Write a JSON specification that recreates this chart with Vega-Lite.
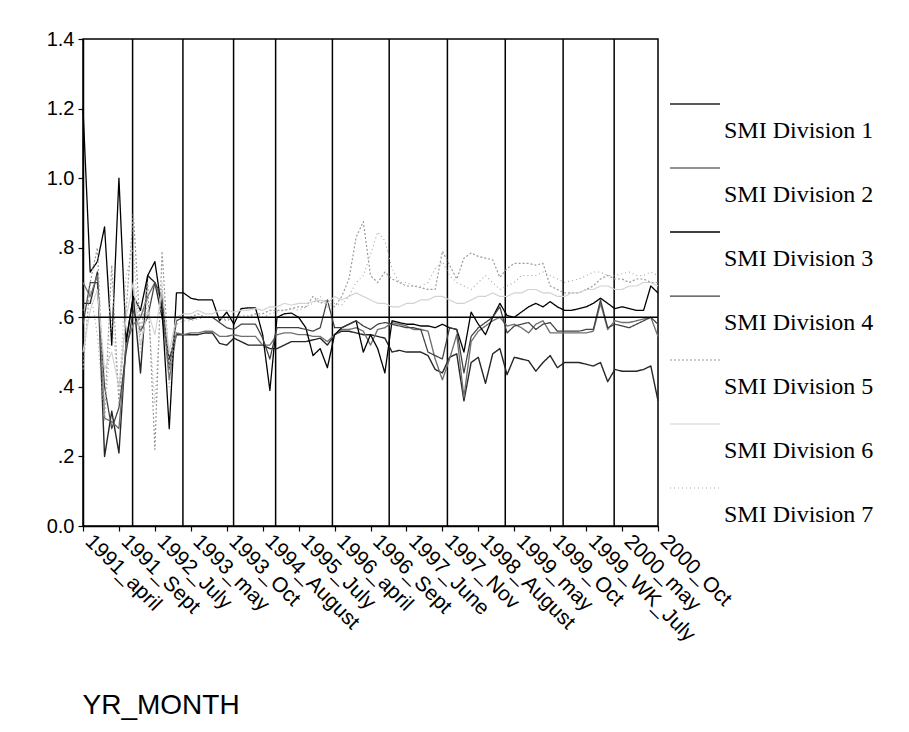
{
  "$schema": "https://vega.github.io/schema/vega-lite/v6.json",
  "width": 575,
  "height": 487,
  "autosize": {"type": "none"},
  "padding": {"left": 83, "top": 39, "right": 251, "bottom": 206},
  "background": "white",
  "config": {
    "view": {"stroke": "black", "strokeWidth": 1.5},
    "font": "Liberation Sans",
    "axis": {"domainColor": "black", "domainWidth": 1.5, "tickColor": "black", "tickWidth": 1.2, "labelColor": "black", "grid": false, "titleColor": "black"},
    "legend": {
      "orient": "none",
      "legendX": 586,
      "legendY": 66,
      "padding": 0,
      "symbolType": "M-1,-1.08L1,-1.08",
      "symbolSize": 2500,
      "labelFont": "Liberation Serif",
      "labelFontSize": 24,
      "labelColor": "black",
      "labelBaseline": "middle",
      "labelOffset": 3,
      "labelLimit": 300,
      "rowPadding": 22
    }
  },
  "datasets": {
    "smi": [
      {"t":0,"SMI Division 1":0.64,"SMI Division 2":0.70,"SMI Division 3":1.20,"SMI Division 4":0.58,"SMI Division 5":0.45,"SMI Division 6":0.50,"SMI Division 7":0.62},
      {"t":1,"SMI Division 1":0.64,"SMI Division 2":0.66,"SMI Division 3":0.73,"SMI Division 4":0.70,"SMI Division 5":0.70,"SMI Division 6":0.62,"SMI Division 7":0.68},
      {"t":2,"SMI Division 1":0.73,"SMI Division 2":0.72,"SMI Division 3":0.76,"SMI Division 4":0.70,"SMI Division 5":0.80,"SMI Division 6":0.68,"SMI Division 7":0.55},
      {"t":3,"SMI Division 1":0.20,"SMI Division 2":0.31,"SMI Division 3":0.86,"SMI Division 4":0.40,"SMI Division 5":0.32,"SMI Division 6":0.45,"SMI Division 7":0.30},
      {"t":4,"SMI Division 1":0.33,"SMI Division 2":0.30,"SMI Division 3":0.52,"SMI Division 4":0.28,"SMI Division 5":0.75,"SMI Division 6":0.50,"SMI Division 7":0.60},
      {"t":5,"SMI Division 1":0.21,"SMI Division 2":0.28,"SMI Division 3":1.00,"SMI Division 4":0.34,"SMI Division 5":0.35,"SMI Division 6":0.40,"SMI Division 7":0.38},
      {"t":6,"SMI Division 1":0.53,"SMI Division 2":0.52,"SMI Division 3":0.53,"SMI Division 4":0.50,"SMI Division 5":0.62,"SMI Division 6":0.60,"SMI Division 7":0.72},
      {"t":7,"SMI Division 1":0.66,"SMI Division 2":0.58,"SMI Division 3":0.66,"SMI Division 4":0.62,"SMI Division 5":0.90,"SMI Division 6":0.70,"SMI Division 7":0.80},
      {"t":8,"SMI Division 1":0.44,"SMI Division 2":0.60,"SMI Division 3":0.62,"SMI Division 4":0.56,"SMI Division 5":0.55,"SMI Division 6":0.52,"SMI Division 7":0.50},
      {"t":9,"SMI Division 1":0.72,"SMI Division 2":0.66,"SMI Division 3":0.72,"SMI Division 4":0.60,"SMI Division 5":0.70,"SMI Division 6":0.62,"SMI Division 7":0.65},
      {"t":10,"SMI Division 1":0.70,"SMI Division 2":0.70,"SMI Division 3":0.76,"SMI Division 4":0.70,"SMI Division 5":0.22,"SMI Division 6":0.55,"SMI Division 7":0.35},
      {"t":11,"SMI Division 1":0.60,"SMI Division 2":0.64,"SMI Division 3":0.62,"SMI Division 4":0.66,"SMI Division 5":0.79,"SMI Division 6":0.68,"SMI Division 7":0.70},
      {"t":12,"SMI Division 1":0.48,"SMI Division 2":0.42,"SMI Division 3":0.28,"SMI Division 4":0.45,"SMI Division 5":0.45,"SMI Division 6":0.50,"SMI Division 7":0.40},
      {"t":13,"SMI Division 1":0.55,"SMI Division 2":0.555,"SMI Division 3":0.67,"SMI Division 4":0.59,"SMI Division 5":0.60,"SMI Division 6":0.60,"SMI Division 7":0.58},
      {"t":14,"SMI Division 1":0.55,"SMI Division 2":0.55,"SMI Division 3":0.67,"SMI Division 4":0.60,"SMI Division 5":0.60,"SMI Division 6":0.61,"SMI Division 7":0.59},
      {"t":15,"SMI Division 1":0.55,"SMI Division 2":0.555,"SMI Division 3":0.655,"SMI Division 4":0.595,"SMI Division 5":0.60,"SMI Division 6":0.61,"SMI Division 7":0.59},
      {"t":16,"SMI Division 1":0.55,"SMI Division 2":0.555,"SMI Division 3":0.65,"SMI Division 4":0.60,"SMI Division 5":0.61,"SMI Division 6":0.62,"SMI Division 7":0.595},
      {"t":17,"SMI Division 1":0.555,"SMI Division 2":0.56,"SMI Division 3":0.65,"SMI Division 4":0.60,"SMI Division 5":0.60,"SMI Division 6":0.61,"SMI Division 7":0.60},
      {"t":18,"SMI Division 1":0.555,"SMI Division 2":0.56,"SMI Division 3":0.65,"SMI Division 4":0.60,"SMI Division 5":0.60,"SMI Division 6":0.61,"SMI Division 7":0.60},
      {"t":19,"SMI Division 1":0.525,"SMI Division 2":0.545,"SMI Division 3":0.59,"SMI Division 4":0.585,"SMI Division 5":0.60,"SMI Division 6":0.62,"SMI Division 7":0.60},
      {"t":20,"SMI Division 1":0.52,"SMI Division 2":0.545,"SMI Division 3":0.615,"SMI Division 4":0.57,"SMI Division 5":0.59,"SMI Division 6":0.62,"SMI Division 7":0.595},
      {"t":21,"SMI Division 1":0.54,"SMI Division 2":0.55,"SMI Division 3":0.58,"SMI Division 4":0.565,"SMI Division 5":0.60,"SMI Division 6":0.615,"SMI Division 7":0.60},
      {"t":22,"SMI Division 1":0.53,"SMI Division 2":0.545,"SMI Division 3":0.625,"SMI Division 4":0.58,"SMI Division 5":0.60,"SMI Division 6":0.62,"SMI Division 7":0.605},
      {"t":23,"SMI Division 1":0.52,"SMI Division 2":0.545,"SMI Division 3":0.627,"SMI Division 4":0.58,"SMI Division 5":0.60,"SMI Division 6":0.62,"SMI Division 7":0.605},
      {"t":24,"SMI Division 1":0.52,"SMI Division 2":0.545,"SMI Division 3":0.627,"SMI Division 4":0.58,"SMI Division 5":0.61,"SMI Division 6":0.625,"SMI Division 7":0.61},
      {"t":25,"SMI Division 1":0.52,"SMI Division 2":0.52,"SMI Division 3":0.55,"SMI Division 4":0.54,"SMI Division 5":0.61,"SMI Division 6":0.62,"SMI Division 7":0.60},
      {"t":26,"SMI Division 1":0.51,"SMI Division 2":0.52,"SMI Division 3":0.39,"SMI Division 4":0.48,"SMI Division 5":0.62,"SMI Division 6":0.63,"SMI Division 7":0.61},
      {"t":27,"SMI Division 1":0.51,"SMI Division 2":0.55,"SMI Division 3":0.60,"SMI Division 4":0.57,"SMI Division 5":0.62,"SMI Division 6":0.63,"SMI Division 7":0.615},
      {"t":28,"SMI Division 1":0.52,"SMI Division 2":0.555,"SMI Division 3":0.61,"SMI Division 4":0.57,"SMI Division 5":0.62,"SMI Division 6":0.64,"SMI Division 7":0.62},
      {"t":29,"SMI Division 1":0.53,"SMI Division 2":0.555,"SMI Division 3":0.612,"SMI Division 4":0.57,"SMI Division 5":0.625,"SMI Division 6":0.635,"SMI Division 7":0.625},
      {"t":30,"SMI Division 1":0.53,"SMI Division 2":0.55,"SMI Division 3":0.60,"SMI Division 4":0.57,"SMI Division 5":0.63,"SMI Division 6":0.64,"SMI Division 7":0.62},
      {"t":31,"SMI Division 1":0.53,"SMI Division 2":0.55,"SMI Division 3":0.57,"SMI Division 4":0.565,"SMI Division 5":0.63,"SMI Division 6":0.64,"SMI Division 7":0.63},
      {"t":32,"SMI Division 1":0.535,"SMI Division 2":0.545,"SMI Division 3":0.49,"SMI Division 4":0.56,"SMI Division 5":0.66,"SMI Division 6":0.645,"SMI Division 7":0.64},
      {"t":33,"SMI Division 1":0.54,"SMI Division 2":0.545,"SMI Division 3":0.51,"SMI Division 4":0.57,"SMI Division 5":0.64,"SMI Division 6":0.65,"SMI Division 7":0.66},
      {"t":34,"SMI Division 1":0.52,"SMI Division 2":0.53,"SMI Division 3":0.455,"SMI Division 4":0.65,"SMI Division 5":0.65,"SMI Division 6":0.64,"SMI Division 7":0.63},
      {"t":35,"SMI Division 1":0.55,"SMI Division 2":0.55,"SMI Division 3":0.55,"SMI Division 4":0.57,"SMI Division 5":0.63,"SMI Division 6":0.66,"SMI Division 7":0.64},
      {"t":36,"SMI Division 1":0.56,"SMI Division 2":0.565,"SMI Division 3":0.57,"SMI Division 4":0.57,"SMI Division 5":0.66,"SMI Division 6":0.65,"SMI Division 7":0.635},
      {"t":37,"SMI Division 1":0.56,"SMI Division 2":0.565,"SMI Division 3":0.58,"SMI Division 4":0.58,"SMI Division 5":0.71,"SMI Division 6":0.66,"SMI Division 7":0.66},
      {"t":38,"SMI Division 1":0.555,"SMI Division 2":0.57,"SMI Division 3":0.59,"SMI Division 4":0.59,"SMI Division 5":0.83,"SMI Division 6":0.67,"SMI Division 7":0.70},
      {"t":39,"SMI Division 1":0.55,"SMI Division 2":0.56,"SMI Division 3":0.50,"SMI Division 4":0.575,"SMI Division 5":0.875,"SMI Division 6":0.66,"SMI Division 7":0.72},
      {"t":40,"SMI Division 1":0.55,"SMI Division 2":0.52,"SMI Division 3":0.55,"SMI Division 4":0.565,"SMI Division 5":0.72,"SMI Division 6":0.65,"SMI Division 7":0.78},
      {"t":41,"SMI Division 1":0.545,"SMI Division 2":0.565,"SMI Division 3":0.51,"SMI Division 4":0.58,"SMI Division 5":0.70,"SMI Division 6":0.64,"SMI Division 7":0.845},
      {"t":42,"SMI Division 1":0.54,"SMI Division 2":0.57,"SMI Division 3":0.44,"SMI Division 4":0.585,"SMI Division 5":0.73,"SMI Division 6":0.64,"SMI Division 7":0.82},
      {"t":43,"SMI Division 1":0.50,"SMI Division 2":0.585,"SMI Division 3":0.59,"SMI Division 4":0.58,"SMI Division 5":0.71,"SMI Division 6":0.63,"SMI Division 7":0.74},
      {"t":44,"SMI Division 1":0.505,"SMI Division 2":0.58,"SMI Division 3":0.585,"SMI Division 4":0.575,"SMI Division 5":0.70,"SMI Division 6":0.63,"SMI Division 7":0.70},
      {"t":45,"SMI Division 1":0.50,"SMI Division 2":0.575,"SMI Division 3":0.58,"SMI Division 4":0.57,"SMI Division 5":0.69,"SMI Division 6":0.64,"SMI Division 7":0.70},
      {"t":46,"SMI Division 1":0.50,"SMI Division 2":0.565,"SMI Division 3":0.58,"SMI Division 4":0.57,"SMI Division 5":0.69,"SMI Division 6":0.64,"SMI Division 7":0.69},
      {"t":47,"SMI Division 1":0.50,"SMI Division 2":0.565,"SMI Division 3":0.575,"SMI Division 4":0.565,"SMI Division 5":0.685,"SMI Division 6":0.65,"SMI Division 7":0.69},
      {"t":48,"SMI Division 1":0.49,"SMI Division 2":0.56,"SMI Division 3":0.575,"SMI Division 4":0.50,"SMI Division 5":0.68,"SMI Division 6":0.65,"SMI Division 7":0.70},
      {"t":49,"SMI Division 1":0.45,"SMI Division 2":0.48,"SMI Division 3":0.57,"SMI Division 4":0.49,"SMI Division 5":0.68,"SMI Division 6":0.66,"SMI Division 7":0.74},
      {"t":50,"SMI Division 1":0.44,"SMI Division 2":0.42,"SMI Division 3":0.58,"SMI Division 4":0.48,"SMI Division 5":0.79,"SMI Division 6":0.66,"SMI Division 7":0.76},
      {"t":51,"SMI Division 1":0.485,"SMI Division 2":0.48,"SMI Division 3":0.57,"SMI Division 4":0.57,"SMI Division 5":0.75,"SMI Division 6":0.65,"SMI Division 7":0.72},
      {"t":52,"SMI Division 1":0.495,"SMI Division 2":0.55,"SMI Division 3":0.565,"SMI Division 4":0.565,"SMI Division 5":0.71,"SMI Division 6":0.64,"SMI Division 7":0.70},
      {"t":53,"SMI Division 1":0.36,"SMI Division 2":0.37,"SMI Division 3":0.50,"SMI Division 4":0.44,"SMI Division 5":0.77,"SMI Division 6":0.64,"SMI Division 7":0.69},
      {"t":54,"SMI Division 1":0.47,"SMI Division 2":0.53,"SMI Division 3":0.615,"SMI Division 4":0.545,"SMI Division 5":0.785,"SMI Division 6":0.65,"SMI Division 7":0.68},
      {"t":55,"SMI Division 1":0.485,"SMI Division 2":0.56,"SMI Division 3":0.58,"SMI Division 4":0.57,"SMI Division 5":0.775,"SMI Division 6":0.66,"SMI Division 7":0.70},
      {"t":56,"SMI Division 1":0.41,"SMI Division 2":0.575,"SMI Division 3":0.55,"SMI Division 4":0.585,"SMI Division 5":0.77,"SMI Division 6":0.66,"SMI Division 7":0.72},
      {"t":57,"SMI Division 1":0.495,"SMI Division 2":0.59,"SMI Division 3":0.60,"SMI Division 4":0.60,"SMI Division 5":0.765,"SMI Division 6":0.67,"SMI Division 7":0.70},
      {"t":58,"SMI Division 1":0.51,"SMI Division 2":0.60,"SMI Division 3":0.64,"SMI Division 4":0.63,"SMI Division 5":0.715,"SMI Division 6":0.66,"SMI Division 7":0.68},
      {"t":59,"SMI Division 1":0.435,"SMI Division 2":0.575,"SMI Division 3":0.605,"SMI Division 4":0.555,"SMI Division 5":0.74,"SMI Division 6":0.66,"SMI Division 7":0.69},
      {"t":60,"SMI Division 1":0.485,"SMI Division 2":0.58,"SMI Division 3":0.60,"SMI Division 4":0.575,"SMI Division 5":0.755,"SMI Division 6":0.67,"SMI Division 7":0.70},
      {"t":61,"SMI Division 1":0.48,"SMI Division 2":0.57,"SMI Division 3":0.615,"SMI Division 4":0.58,"SMI Division 5":0.755,"SMI Division 6":0.67,"SMI Division 7":0.72},
      {"t":62,"SMI Division 1":0.475,"SMI Division 2":0.555,"SMI Division 3":0.63,"SMI Division 4":0.585,"SMI Division 5":0.755,"SMI Division 6":0.68,"SMI Division 7":0.72},
      {"t":63,"SMI Division 1":0.445,"SMI Division 2":0.58,"SMI Division 3":0.64,"SMI Division 4":0.565,"SMI Division 5":0.75,"SMI Division 6":0.68,"SMI Division 7":0.72},
      {"t":64,"SMI Division 1":0.47,"SMI Division 2":0.59,"SMI Division 3":0.63,"SMI Division 4":0.58,"SMI Division 5":0.755,"SMI Division 6":0.67,"SMI Division 7":0.73},
      {"t":65,"SMI Division 1":0.49,"SMI Division 2":0.555,"SMI Division 3":0.645,"SMI Division 4":0.585,"SMI Division 5":0.69,"SMI Division 6":0.67,"SMI Division 7":0.72},
      {"t":66,"SMI Division 1":0.455,"SMI Division 2":0.555,"SMI Division 3":0.63,"SMI Division 4":0.56,"SMI Division 5":0.68,"SMI Division 6":0.66,"SMI Division 7":0.71},
      {"t":67,"SMI Division 1":0.47,"SMI Division 2":0.555,"SMI Division 3":0.62,"SMI Division 4":0.56,"SMI Division 5":0.67,"SMI Division 6":0.66,"SMI Division 7":0.70},
      {"t":68,"SMI Division 1":0.47,"SMI Division 2":0.555,"SMI Division 3":0.62,"SMI Division 4":0.56,"SMI Division 5":0.67,"SMI Division 6":0.67,"SMI Division 7":0.705},
      {"t":69,"SMI Division 1":0.47,"SMI Division 2":0.555,"SMI Division 3":0.625,"SMI Division 4":0.56,"SMI Division 5":0.67,"SMI Division 6":0.67,"SMI Division 7":0.71},
      {"t":70,"SMI Division 1":0.465,"SMI Division 2":0.555,"SMI Division 3":0.63,"SMI Division 4":0.565,"SMI Division 5":0.68,"SMI Division 6":0.68,"SMI Division 7":0.72},
      {"t":71,"SMI Division 1":0.46,"SMI Division 2":0.56,"SMI Division 3":0.64,"SMI Division 4":0.565,"SMI Division 5":0.69,"SMI Division 6":0.68,"SMI Division 7":0.73},
      {"t":72,"SMI Division 1":0.47,"SMI Division 2":0.64,"SMI Division 3":0.655,"SMI Division 4":0.65,"SMI Division 5":0.71,"SMI Division 6":0.69,"SMI Division 7":0.73},
      {"t":73,"SMI Division 1":0.415,"SMI Division 2":0.565,"SMI Division 3":0.64,"SMI Division 4":0.57,"SMI Division 5":0.72,"SMI Division 6":0.69,"SMI Division 7":0.72},
      {"t":74,"SMI Division 1":0.45,"SMI Division 2":0.59,"SMI Division 3":0.625,"SMI Division 4":0.58,"SMI Division 5":0.71,"SMI Division 6":0.68,"SMI Division 7":0.72},
      {"t":75,"SMI Division 1":0.445,"SMI Division 2":0.585,"SMI Division 3":0.63,"SMI Division 4":0.575,"SMI Division 5":0.71,"SMI Division 6":0.68,"SMI Division 7":0.725},
      {"t":76,"SMI Division 1":0.445,"SMI Division 2":0.585,"SMI Division 3":0.625,"SMI Division 4":0.57,"SMI Division 5":0.70,"SMI Division 6":0.69,"SMI Division 7":0.73},
      {"t":77,"SMI Division 1":0.445,"SMI Division 2":0.59,"SMI Division 3":0.62,"SMI Division 4":0.58,"SMI Division 5":0.71,"SMI Division 6":0.69,"SMI Division 7":0.72},
      {"t":78,"SMI Division 1":0.45,"SMI Division 2":0.595,"SMI Division 3":0.62,"SMI Division 4":0.59,"SMI Division 5":0.71,"SMI Division 6":0.70,"SMI Division 7":0.72},
      {"t":79,"SMI Division 1":0.46,"SMI Division 2":0.60,"SMI Division 3":0.69,"SMI Division 4":0.60,"SMI Division 5":0.70,"SMI Division 6":0.70,"SMI Division 7":0.73},
      {"t":80,"SMI Division 1":0.36,"SMI Division 2":0.545,"SMI Division 3":0.67,"SMI Division 4":0.58,"SMI Division 5":0.70,"SMI Division 6":0.69,"SMI Division 7":0.72}
    ],
    "periodBreaks": [
      {"at": 6.9}, {"at": 13.9}, {"at": 20.95}, {"at": 26.8}, {"at": 34.7},
      {"at": 42.6}, {"at": 50.7}, {"at": 58.75}, {"at": 66.8}, {"at": 73.9}
    ],
    "reference": [{"level": 0.6}]
  },
  "layer": [
    {
      "data": {"name": "periodBreaks"},
      "mark": {"type": "rule", "color": "black", "strokeWidth": 1.5},
      "encoding": {
        "x": {
          "field": "at",
          "type": "quantitative",
          "scale": {"domain": [0, 80], "nice": false, "zero": false},
          "axis": {
            "values": [0, 5, 10, 15, 20, 25, 30, 35, 40, 45, 50, 55, 60, 65, 70, 75, 80],
            "labelExpr": "['1991_april','1991_Sept','1992_July','1993_may','1993_Oct','1994_August','1995_July','1996_april','1996_Sept','1997_June','1997_Nov','1998_August','1999_may','1999_Oct','1999_WK_July','2000_may','2000_Oct'][round(datum.value / 5)]",
            "labelAngle": 45,
            "labelAlign": "left",
            "labelBaseline": "middle",
            "labelFontSize": 21,
            "labelPadding": 7,
            "labelOffset": 5,
            "labelOverlap": false,
            "labelBound": false,
            "labelFlush": false,
            "tickSize": 5,
            "title": "YR_MONTH",
            "titleFontSize": 28,
            "titleFontWeight": "normal",
            "titleAnchor": "start",
            "titleAlign": "left",
            "titleBaseline": "alphabetic",
            "titleX": -1,
            "titleY": 187
          }
        }
      }
    },
    {
      "data": {"name": "smi"},
      "transform": [
        {"fold": ["SMI Division 1", "SMI Division 2", "SMI Division 3", "SMI Division 4", "SMI Division 5", "SMI Division 6", "SMI Division 7"], "as": ["division", "smi"]}
      ],
      "mark": {"type": "line", "strokeJoin": "round"},
      "encoding": {
        "x": {
          "field": "t",
          "type": "quantitative",
          "scale": {"domain": [0, 80], "nice": false, "zero": false},
          "axis": {
            "values": [0, 5, 10, 15, 20, 25, 30, 35, 40, 45, 50, 55, 60, 65, 70, 75, 80],
            "labelExpr": "['1991_april','1991_Sept','1992_July','1993_may','1993_Oct','1994_August','1995_July','1996_april','1996_Sept','1997_June','1997_Nov','1998_August','1999_may','1999_Oct','1999_WK_July','2000_may','2000_Oct'][round(datum.value / 5)]",
            "labelAngle": 45,
            "labelAlign": "left",
            "labelBaseline": "middle",
            "labelFontSize": 21,
            "labelPadding": 7,
            "labelOffset": 5,
            "labelOverlap": false,
            "labelBound": false,
            "labelFlush": false,
            "tickSize": 5,
            "title": "YR_MONTH",
            "titleFontSize": 28,
            "titleFontWeight": "normal",
            "titleAnchor": "start",
            "titleAlign": "left",
            "titleBaseline": "alphabetic",
            "titleX": -1,
            "titleY": 187
          }
        },
        "y": {
          "field": "smi",
          "type": "quantitative",
          "scale": {"domain": [0, 1.4], "nice": false, "zero": true},
          "axis": {
            "values": [0, 0.2, 0.4, 0.6, 0.8, 1, 1.2, 1.4],
            "labelExpr": "datum.value == 0 ? '0.0' : (datum.value < 1 ? replace(format(datum.value, '.1f'), '0.', '.') : format(datum.value, '.1f'))",
            "labelFontSize": 20,
            "labelPadding": 4,
            "tickSize": 5,
            "title": null
          }
        },
        "color": {
          "field": "division",
          "type": "nominal",
          "scale": {
            "domain": ["SMI Division 1", "SMI Division 2", "SMI Division 3", "SMI Division 4", "SMI Division 5", "SMI Division 6", "SMI Division 7"],
            "range": ["#262626", "#707070", "#000000", "#404040", "#9a9a9a", "#d2d2d2", "#a6a6a6"]
          },
          "legend": {"title": null}
        },
        "strokeDash": {
          "field": "division",
          "type": "nominal",
          "scale": {
            "domain": ["SMI Division 1", "SMI Division 2", "SMI Division 3", "SMI Division 4", "SMI Division 5", "SMI Division 6", "SMI Division 7"],
            "range": [[1, 0], [1, 0], [1, 0], [1, 0], [2, 2], [1, 0], [1, 3]]
          },
          "legend": {"title": null}
        },
        "strokeWidth": {
          "field": "division",
          "type": "nominal",
          "scale": {
            "domain": ["SMI Division 1", "SMI Division 2", "SMI Division 3", "SMI Division 4", "SMI Division 5", "SMI Division 6", "SMI Division 7"],
            "range": [1.4, 1.1, 1.7, 1.2, 1.1, 1, 1.1]
          },
          "legend": {"title": null}
        }
      }
    },
    {
      "data": {"name": "reference"},
      "mark": {"type": "rule", "color": "black", "strokeWidth": 1.5},
      "encoding": {
        "y": {"field": "level", "type": "quantitative", "title": null}
      }
    }
  ]
}
